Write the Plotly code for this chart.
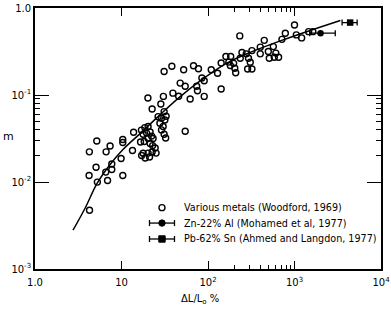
import plotly.graph_objects as go

# Various metals (Woodford, 1969): elongation (%) and strain-rate sensitivity m
metals_x = [4.25, 5.18, 6.64, 7.38, 10.35, 10.35, 9.9, 5.08, 7.72, 6.58, 7.72, 4.22, 10.35, 5.26, 6.90, 4.27,
            13.8, 13.4, 20.2, 22.6,
            17.0, 18.6, 20.3, 17.8, 19.5, 21.4, 22.3, 23.2, 20.3, 18.3, 16.6, 21.4, 22.9, 24.5,
            17.8, 20.3, 22.6, 25.1, 17.1, 18.8, 21.1,
            26.5, 29.0, 27.8, 31.7, 30.3, 29.0, 31.1, 32.4, 28.5, 31.1, 32.8, 30.5, 31.1, 38.2, 54.5,
            39.3, 45.8, 47.7, 54.5, 52.3, 68.0, 77.6, 62.2, 74.0, 75.6, 85.0, 90.4, 90.4,
            109, 129, 142, 142, 161, 183, 174, 181, 198, 204, 209, 233,
            236, 247, 277, 294, 308, 287, 322, 322, 402, 402, 447,
            498, 511, 569, 608, 655, 584, 716, 783, 1000, 1050, 1210, 1456, 1629]
metals_y = [0.0222, 0.0296, 0.0222, 0.0259, 0.0308, 0.0284, 0.0186, 0.0148, 0.0161, 0.0130, 0.0139, 0.0119, 0.0119, 0.00997, 0.0104, 0.00473,
            0.0373, 0.0230, 0.0924, 0.0691,
            0.0395, 0.0422, 0.0434, 0.0354, 0.0365, 0.0375, 0.0337, 0.0316, 0.0316, 0.0292, 0.0288, 0.0277, 0.0262, 0.0246,
            0.0214, 0.0215, 0.0221, 0.0215, 0.0202, 0.0189, 0.0194,
            0.0564, 0.0540, 0.0473, 0.0517, 0.0434, 0.0397, 0.0354, 0.0320, 0.0788, 0.0644, 0.0569, 0.0964, 0.186, 0.214, 0.0383,
            0.105, 0.0969, 0.137, 0.126, 0.195, 0.217, 0.200, 0.090, 0.126, 0.112, 0.157, 0.146, 0.0964,
            0.195, 0.178, 0.117, 0.233, 0.277, 0.277, 0.239, 0.218, 0.231, 0.203, 0.180, 0.478,
            0.265, 0.308, 0.297, 0.265, 0.238, 0.199, 0.199, 0.324, 0.355, 0.297, 0.425,
            0.316, 0.264, 0.360, 0.303, 0.272, 0.272, 0.436, 0.513, 0.638, 0.491, 0.453, 0.535, 0.535]

# Zn-22% Al (Mohamed et al, 1977)
znal_x = [2000]
znal_y = [0.513]
znal_err_minus = [500]
znal_err_plus = [960]

# Pb-62% Sn (Ahmed and Langdon, 1977)
pbsn_x = [4400]
pbsn_y = [0.68]
pbsn_err_minus = [850]
pbsn_err_plus = [900]

# Fitted curve
fit_x = [2.75, 3.79, 5.22, 7.38, 10.4, 16.4, 28.0, 47.7, 88.0, 167, 308, 685, 1406, 3390]
fit_y = [0.00279, 0.00499, 0.00964, 0.0159, 0.0236, 0.0360, 0.0595, 0.0957, 0.154, 0.234, 0.309, 0.419, 0.538, 0.719]

legend_labels = ["Various metals (Woodford, 1969)",
                 "Zn-22% Al (Mohamed et al, 1977)",
                 "Pb-62% Sn (Ahmed and Langdon, 1977)"]

x_tickvals = [1, 10, 100, 1000, 10000]
x_ticktext = ["1.0", "10", "10<sup>2</sup>", "10<sup>3</sup>", "10<sup>4</sup>"]
x_minor = [200, 300, 400, 500, 600, 700, 800, 900]
y_tickvals = [0.001, 0.01, 0.1, 1]
y_ticktext = ["10<sup>-3</sup>", "10<sup>-2</sup>", "10<sup>-1</sup>", "1.0"]
y_minor = [0.02, 0.03, 0.04, 0.05, 0.06, 0.07, 0.08, 0.09]

FONT = "DejaVu Sans"
BLACK = "black"

fig = go.Figure()
fig.add_trace(go.Scatter(x=fit_x, y=fit_y, mode="lines", line=dict(color=BLACK, width=1.5, shape="spline"),
                         showlegend=False, hoverinfo="skip"))
fig.add_trace(go.Scatter(x=metals_x, y=metals_y, mode="markers", name=legend_labels[0], showlegend=False,
                         marker=dict(symbol="circle-open", size=6, color=BLACK, line=dict(width=1.4, color=BLACK))))
fig.add_trace(go.Scatter(x=znal_x, y=znal_y, mode="markers", name=legend_labels[1], showlegend=False,
                         marker=dict(symbol="circle", size=6.5, color=BLACK),
                         error_x=dict(type="data", symmetric=False, array=znal_err_plus, arrayminus=znal_err_minus,
                                      color=BLACK, thickness=1.3, width=3)))
fig.add_trace(go.Scatter(x=pbsn_x, y=pbsn_y, mode="markers", name=legend_labels[2], showlegend=False,
                         marker=dict(symbol="square", size=6.5, color=BLACK),
                         error_x=dict(type="data", symmetric=False, array=pbsn_err_plus, arrayminus=pbsn_err_minus,
                                      color=BLACK, thickness=1.3, width=3)))

# ---- hand-built legend (rows closer together than plotly's own legend allows) ----
leg_sym_x = 0.367     # paper x of the legend symbols
leg_txt_x = 0.425     # paper x where the legend texts start
leg_rows = [0.235, 0.176, 0.115]  # paper y of the three rows
shapes = []
annotations = []
for i, (lab, ry) in enumerate(zip(legend_labels, leg_rows)):
    annotations.append(dict(text=lab, xref="paper", yref="paper", x=leg_txt_x, y=ry, showarrow=False,
                            xanchor="left", yanchor="middle", font=dict(family=FONT, size=9.6, color=BLACK)))
    common = dict(xref="paper", yref="paper", xsizemode="pixel", ysizemode="pixel", xanchor=leg_sym_x, yanchor=ry)
    if i == 0:
        shapes.append(dict(type="circle", x0=-3, x1=3, y0=-3, y1=3, line=dict(color=BLACK, width=1.4), **common))
    else:
        shapes.append(dict(type="line", x0=-12.5, x1=12.5, y0=0, y1=0, line=dict(color=BLACK, width=1.3), **common))
        shapes.append(dict(type="line", x0=-12.5, x1=-12.5, y0=-3, y1=3, line=dict(color=BLACK, width=1.3), **common))
        shapes.append(dict(type="line", x0=12.5, x1=12.5, y0=-3, y1=3, line=dict(color=BLACK, width=1.3), **common))
        if i == 1:
            shapes.append(dict(type="circle", x0=-3.2, x1=3.2, y0=-3.2, y1=3.2, fillcolor=BLACK,
                               line=dict(color=BLACK, width=1), **common))
        else:
            shapes.append(dict(type="rect", x0=-3.2, x1=3.2, y0=-3.2, y1=3.2, fillcolor=BLACK,
                               line=dict(color=BLACK, width=1), **common))

annotations += [
    dict(text="m", xref="paper", yref="paper", x=-0.078, y=0.507, showarrow=False,
         font=dict(family=FONT, size=11, color=BLACK), xanchor="center", yanchor="middle"),
    dict(text="\u0394L/L<sub>o</sub> %", xref="paper", yref="paper", x=0.477, y=-0.117, showarrow=False,
         font=dict(family=FONT, size=10, color=BLACK), xanchor="center", yanchor="middle"),
]

fig.update_layout(
    width=391, height=310,
    margin=dict(l=35, r=10, t=8, b=40.5, autoexpand=False),
    paper_bgcolor="white", plot_bgcolor="white",
    font=dict(family=FONT, size=10, color=BLACK),
    showlegend=False,
    xaxis=dict(type="log", range=[0, 4], showgrid=False, zeroline=False, automargin=False,
               showline=True, linecolor=BLACK, linewidth=1.8, mirror="ticks",
               tickmode="array", tickvals=x_tickvals, ticktext=x_ticktext,
               ticks="inside", ticklen=8, tickwidth=1.2, tickcolor=BLACK, ticklabelstandoff=3,
               tickfont=dict(family=FONT, size=10),
               minor=dict(tickmode="array", tickvals=x_minor, ticks="inside", ticklen=4, tickwidth=1, tickcolor=BLACK)),
    yaxis=dict(type="log", range=[-3, 0], showgrid=False, zeroline=False, automargin=False,
               showline=True, linecolor=BLACK, linewidth=1.8, mirror="ticks",
               tickmode="array", tickvals=y_tickvals, ticktext=y_ticktext,
               ticks="inside", ticklen=14, tickwidth=1.2, tickcolor=BLACK,
               tickfont=dict(family=FONT, size=10),
               minor=dict(tickmode="array", tickvals=y_minor, ticks="inside", ticklen=5, tickwidth=1, tickcolor=BLACK)),
    shapes=shapes,
    annotations=annotations,
)

fig.write_html("out.html", config={"displayModeBar": False},
               post_script="document.body.style.margin='0';")
